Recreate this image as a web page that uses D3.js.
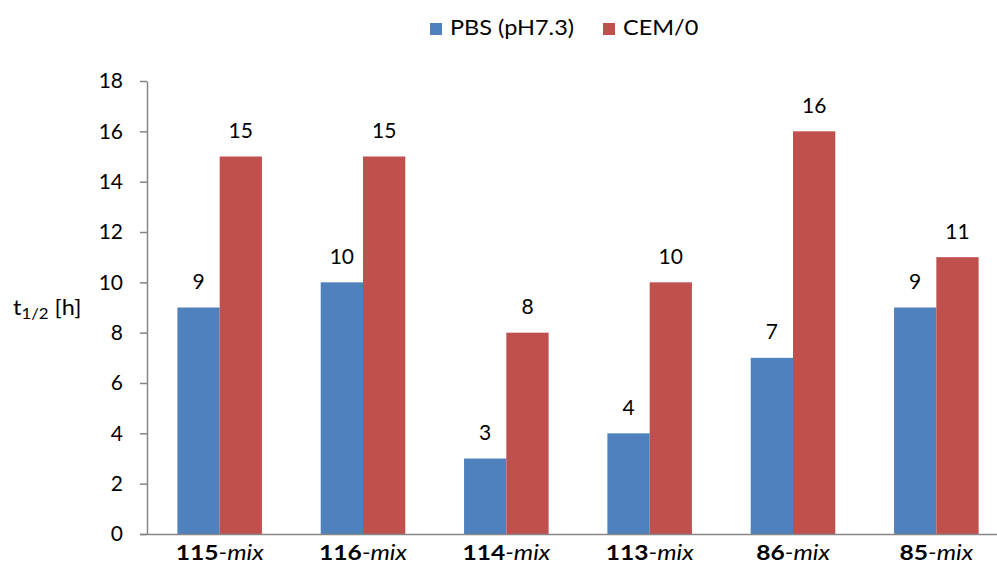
<!DOCTYPE html>
<html><head><meta charset="utf-8">
<script src="https://cdn.jsdelivr.net/npm/d3@7"></script>
<style>body{margin:0;background:#fff}svg{display:block}text{font-family:Lato,"Open Sans",sans-serif}</style>
</head><body>
<svg id="c" width="997" height="565"></svg>
<script>
const categoryNums = ["115","116","114","113","86","85"];
const categorySuffix = "-mix";
const seriesNames = ["PBS (pH7.3)","CEM/0"];
const pbsValues = [9,10,3,4,7,9];
const cemValues = [15,15,8,10,16,11];
const yTicks = [0,2,4,6,8,10,12,14,16,18];
const colors = ["#4F81BD","#C0504D"];

const svg = d3.select("#c");
const x0 = d3.scaleBand().domain(categoryNums).range([148,1008]).paddingInner(0.41).paddingOuter(0.205);
const x1 = d3.scaleBand().domain([0,1]).range([0,x0.bandwidth()]);
const y = d3.scaleLinear().domain([0,18]).range([534,81]);

const seriesVals = [pbsValues, cemValues];
const g = svg.append("g");
categoryNums.forEach((c,i)=>{
  [0,1].forEach(s=>{
    const v = seriesVals[s][i];
    g.append("rect").attr("x",x0(c)+x1(s)).attr("y",y(v)).attr("width",x1.bandwidth()).attr("height",y(0)-y(v)).attr("fill",colors[s]);
    g.append("text").attr("x",x0(c)+x1(s)+x1.bandwidth()/2).attr("y",y(v)-18.5).attr("text-anchor","middle").attr("font-size",21).attr("fill","#000").text(v);
  });
});

// y axis
const yAxis = d3.axisLeft(y).tickValues(yTicks).tickSize(7).tickPadding(17).tickSizeOuter(0);
const ya = svg.append("g").attr("transform","translate(147,0)").call(yAxis);
ya.select(".domain").attr("stroke","#868686").attr("stroke-width",1.5);
ya.selectAll(".tick line").attr("stroke","#868686").attr("stroke-width",1.5);
ya.selectAll(".tick text").attr("font-size",21).attr("fill","#000").attr("font-family","Lato,'Open Sans',sans-serif");

// x axis
svg.append("line").attr("x1",140).attr("x2",997).attr("y1",534.5).attr("y2",534.5).attr("stroke","#868686").attr("stroke-width",1.5);
const xl = svg.append("g");
categoryNums.forEach(c=>{
  const t = xl.append("g").attr("transform",`translate(${x0(c)+x0.bandwidth()/2},560) scale(1.2,1)`)
    .append("text").attr("x",0).attr("y",0).attr("text-anchor","middle").attr("font-size",20.5).attr("fill","#000");
  t.append("tspan").attr("font-weight","bold").text(c);
  t.append("tspan").attr("font-style","italic").text(categorySuffix);
});

// y label
const yl = svg.append("g").attr("transform","translate(13,315) scale(1.12,1)").append("text").attr("font-size",21).attr("fill","#000");
yl.append("tspan").text("t");
yl.append("tspan").attr("font-size",15).attr("dy",4).text("1/2");
yl.append("tspan").attr("dy",-4).text(" [h]");

// legend
const legendX = [430,603];
seriesNames.forEach((n,i)=>{
  svg.append("rect").attr("x",legendX[i]).attr("y",23).attr("width",12).attr("height",12).attr("fill",colors[i]);
  svg.append("g").attr("transform",`translate(${legendX[i]+20},35) scale(1.12,1)`)
    .append("text").attr("font-size",21).attr("fill","#000").text(n);
});
</script>
</body></html>
